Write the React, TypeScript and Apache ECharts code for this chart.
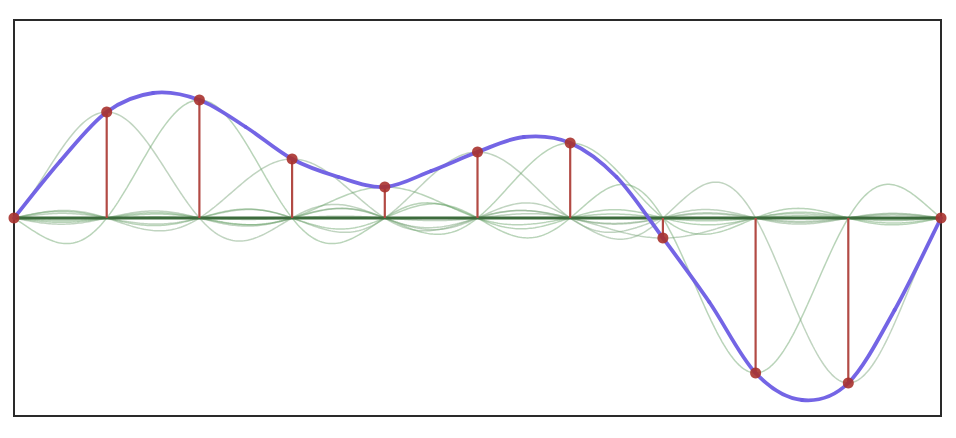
import React, { useEffect, useRef } from "react";
import * as echarts from "echarts";

// sample positions (index) and sampled values
const sampleX = [0, 1, 2, 3, 4, 5, 6, 7, 8, 9, 10];
const sampleY = [0, 1.06, 1.18, 0.59, 0.31, 0.66, 0.75, -0.2, -1.55, -1.65, 0];
// continuous signal (t = 0.5 … 9.5)
const midX = [0.5, 1.5, 2.5, 3.5, 4.5, 5.5, 6.5, 7.5, 8.5, 9.5];
const midY = [0.57, 1.25, 0.91, 0.41, 0.47, 0.81, 0.41, -0.84, -1.82, -0.92];

const X_MIN = 0;
const X_MAX = 10;
const STEPS = 500;

function sinc(t: number): number {
  if (Math.abs(t) < 1e-9) return 1;
  return Math.sin(Math.PI * t) / (Math.PI * t);
}

// evaluation grid for the interpolation kernels (each kernel = sample value × shifted sinc)
const gridX: number[] = [];
for (let i = 0; i <= STEPS; i++) gridX.push(X_MIN + ((X_MAX - X_MIN) * i) / STEPS);

export default function App() {
  const ref = useRef<HTMLDivElement>(null);
  useEffect(() => {
    if (!ref.current) return;
    const chart = echarts.init(ref.current, null, { renderer: "svg" });

    const kernelSeries: any[] = sampleX.map((sx, k) => ({
      type: "line",
      name: "kernel" + k,
      showSymbol: false,
      silent: true,
      z: 1,
      lineStyle: {
        color: k % 2 === 0 ? "rgba(100,160,100,0.45)" : "rgba(130,170,130,0.5)",
        width: 1.5,
      },
      data: gridX.map((x) => [x, sampleY[k] * sinc(x - sx)]),
    }));

    // signal curve: samples and half-way readings, merged in x order
    const curve: number[][] = [];
    sampleX.forEach((x, i) => {
      curve.push([x, sampleY[i]]);
      if (i < midX.length) curve.push([midX[i], midY[i]]);
    });
    const n = curve.length;

    const option: any = {
      animation: false,
      backgroundColor: "#ffffff",
      grid: {
        left: 14,
        right: 15,
        top: 20,
        bottom: 22,
        show: true,
        borderColor: "#2a2a2a",
        borderWidth: 2,
        backgroundColor: "transparent",
      },
      xAxis: {
        type: "value",
        min: X_MIN,
        max: X_MAX,
        axisLine: { show: false },
        axisTick: { show: false },
        axisLabel: { show: false },
        splitLine: { show: false },
      },
      yAxis: {
        type: "value",
        min: -1.98,
        max: 1.98,
        axisLine: { show: false },
        axisTick: { show: false },
        axisLabel: { show: false },
        splitLine: { show: false },
      },
      series: [
        ...kernelSeries,
        {
          type: "line",
          name: "baseline",
          showSymbol: false,
          silent: true,
          z: 2,
          lineStyle: { color: "#3c6b3c", width: 3 },
          data: [
            [X_MIN, 0],
            [X_MAX, 0],
          ],
        },
        {
          type: "custom",
          name: "stems",
          z: 3,
          data: sampleX.map((x, i) => [x, sampleY[i]]),
          renderItem: (params: any, api: any) => {
            const p0 = api.coord([api.value(0), 0]);
            const p1 = api.coord([api.value(0), api.value(1)]);
            return {
              type: "line",
              shape: { x1: p0[0], y1: p0[1], x2: p1[0], y2: p1[1] },
              style: { stroke: "#b24a44", lineWidth: 2.2 },
            };
          },
        },
        {
          type: "custom",
          name: "signal",
          z: 4,
          silent: true,
          data: curve.slice(0, n - 1),
          renderItem: (params: any, api: any) => {
            const i = params.dataIndex;
            const P = (j: number) => api.coord(curve[Math.max(0, Math.min(n - 1, j))]);
            const p0 = P(i - 1);
            const p1 = P(i);
            const p2 = P(i + 1);
            const p3 = P(i + 2);
            return {
              type: "bezierCurve",
              shape: {
                x1: p1[0],
                y1: p1[1],
                cpx1: p1[0] + (p2[0] - p0[0]) / 6,
                cpy1: p1[1] + (p2[1] - p0[1]) / 6,
                cpx2: p2[0] - (p3[0] - p1[0]) / 6,
                cpy2: p2[1] - (p3[1] - p1[1]) / 6,
                x2: p2[0],
                y2: p2[1],
              },
              style: { stroke: "#6d5de4", lineWidth: 3.8, fill: null, lineCap: "round", opacity: 0.95 },
            };
          },
        },
        {
          type: "scatter",
          name: "samples",
          z: 5,
          symbolSize: 11,
          itemStyle: { color: "#a8322e", opacity: 0.9 },
          data: sampleX.map((x, i) => [x, sampleY[i]]),
        },
      ],
    };
    chart.setOption(option);
    return () => chart.dispose();
  }, []);
  return <div ref={ref} style={{ width: 956, height: 438, position: "absolute", left: 0, top: 0 }} />;
}
